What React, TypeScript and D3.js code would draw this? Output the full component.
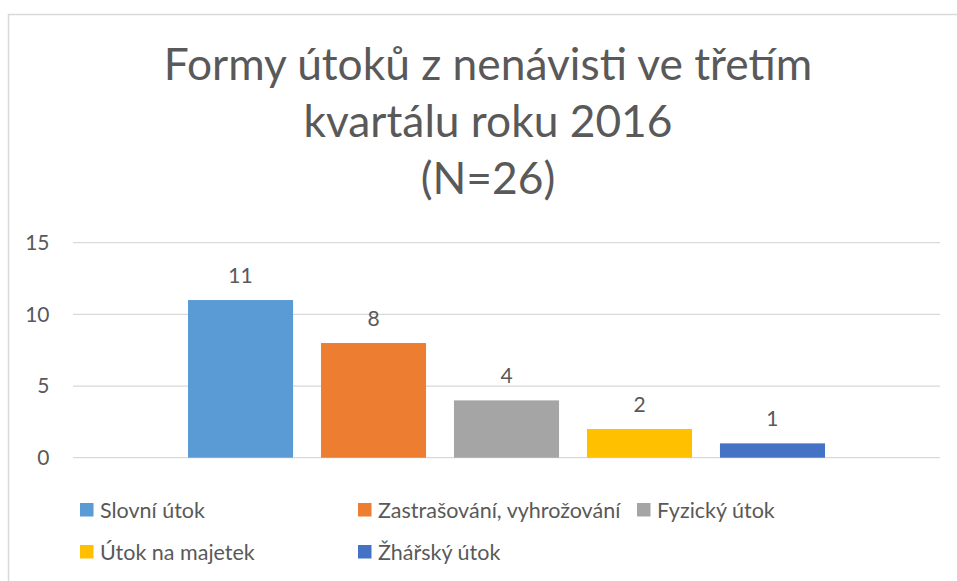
import React from "react";
import * as d3 from "d3";

const titleLines = ["Formy útoků z nenávisti ve třetím", "kvartálu roku 2016", "(N=26)"];
const categories = ["Q3 2016"];
const seriesNames = ["Slovní útok", "Zastrašování, vyhrožování", "Fyzický útok", "Útok na majetek", "Žhářský útok"];
const seriesValues = [11, 8, 4, 2, 1];
const seriesColors = ["#5b9bd5", "#ed7d31", "#a5a5a5", "#ffc000", "#4472c4"];
const yTicks = [0, 5, 10, 15];

const W = 957;
const H = 581;
const FONT = "Lato, 'Open Sans', sans-serif";
const TEXT = "#595959";

export default function App() {
  const plotLeft = 73;
  const plotRight = 940;
  const plotTop = 242.7;
  const plotBottom = 457.7;

  const y = d3.scaleLinear().domain([0, 15]).range([plotBottom, plotTop]);
  const x0 = d3.scaleBand<string>().domain(categories).range([plotLeft, plotRight]).paddingInner(0).paddingOuter(0.1805);
  const x1 = d3.scaleBand<string>().domain(seriesNames).range([0, x0.bandwidth()]).paddingInner(0.21).paddingOuter(0);

  const legendCols = [80, 358, 637];
  const legendRows = [510, 552];
  const legendItems = seriesNames.map((n, i) => ({
    name: n,
    color: seriesColors[i],
    x: legendCols[i % 3],
    y: legendRows[Math.floor(i / 3)],
  }));

  return (
    <svg width={W} height={H} style={{ position: "absolute", left: 0, top: 0, background: "#fff" }}>
      <rect x={8.5} y={14.5} width={960} height={600} fill="#fff" stroke="#d9d9d9" strokeWidth={1.5} />
      {titleLines.map((t, i) => (
        <text key={i} x={488} y={80 + i * 57} textAnchor="middle" fontFamily={FONT} fontSize={44.3} fill={TEXT}>
          {t}
        </text>
      ))}
      {yTicks.map((t) => (
        <g key={t}>
          <line x1={plotLeft} x2={plotRight} y1={y(t)} y2={y(t)} stroke="#d9d9d9" strokeWidth={1.3} />
          <text x={49.5} y={y(t)} dy="0.35em" textAnchor="end" fontFamily={FONT} fontSize={21} fill={TEXT}>
            {t}
          </text>
        </g>
      ))}
      {categories.map((c) => (
        <g key={c} transform={`translate(${x0(c)},0)`}>
          {seriesNames.map((s, i) => (
            <g key={s}>
              <rect x={x1(s)} y={y(seriesValues[i])} width={x1.bandwidth()} height={plotBottom - y(seriesValues[i])} fill={seriesColors[i]} />
              <text x={(x1(s) ?? 0) + x1.bandwidth() / 2} y={y(seriesValues[i]) - 17} textAnchor="middle" fontFamily={FONT} fontSize={21} fill={TEXT}>
                {seriesValues[i]}
              </text>
            </g>
          ))}
        </g>
      ))}
      {legendItems.map((it) => (
        <g key={it.name}>
          <rect x={it.x} y={it.y - 7} width={13.5} height={13.5} fill={it.color} />
          <text x={it.x + 20} y={it.y} dy="0.35em" fontFamily={FONT} fontSize={21.5} fill={TEXT}>
            {it.name}
          </text>
        </g>
      ))}
    </svg>
  );
}
